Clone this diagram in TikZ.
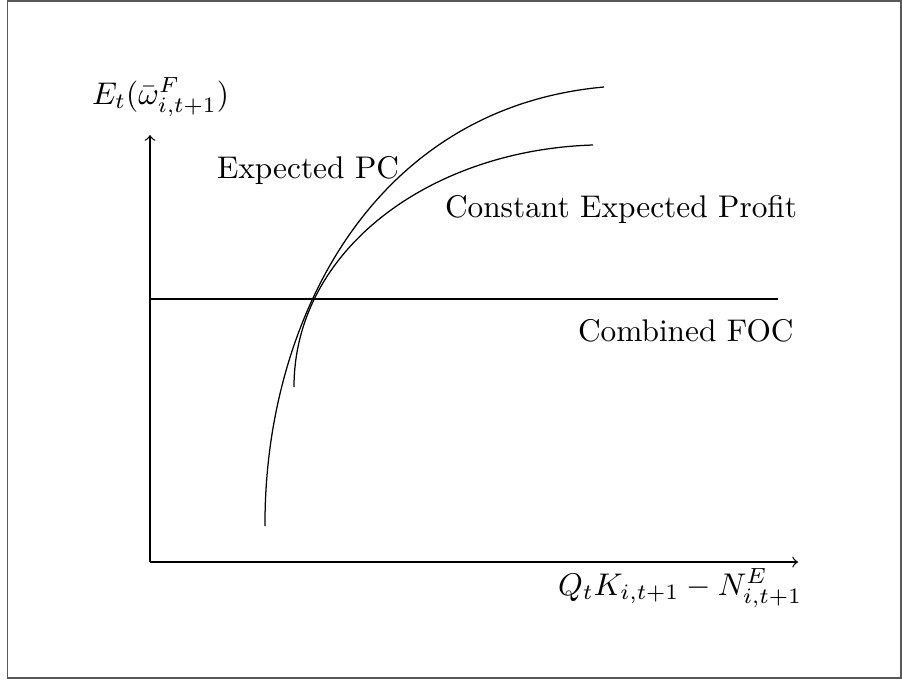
\documentclass[tikz,border=0pt]{standalone}
\usepackage{amsmath, amssymb}
\usetikzlibrary{positioning}
\tikzstyle{lbl} = [inner sep=0pt, outer sep=0pt]
\tikzstyle{curve} = [thin]
\begin{document}
\begin{tikzpicture}[x=0.319pt, y=-0.319pt]
    \useasboundingbox (0,0) rectangle (902,680);
    \draw[gray!70!black, line width=0.5pt] (7.5,0.8) rectangle (901,678); % outer frame
    % axes
    \coordinate (origin) at (150,562);
    \coordinate (ytip) at (150,135);
    \coordinate (xtip) at (798,562);
    \draw[->] (origin) -- (ytip);
    \draw[->] (origin) -- (xtip);
    \node[lbl, anchor=base west] (ylabel) at (92,104) {$E_t(\bar{\omega}^F_{i,t+1})$};
    \node[lbl, anchor=base west] (xlabel) at (558,595) {$Q_tK_{i,t+1}-N^E_{i,t+1}$};
    % combined FOC
    \coordinate (focleft) at (150,299);
    \coordinate (focright) at (778,299);
    \draw (focleft) -- (focright);
    \node[lbl, anchor=base west] (foc) at (578,341) {Combined FOC};
    % expected PC
    \coordinate (pcstart) at (265,526);
    \coordinate (pcend) at (604,87);
    \draw[curve] (pcstart) .. controls (264,325) and (370,108) .. (pcend);
    \node[lbl, anchor=base west] (pc) at (217,178) {Expected PC};
    % constant expected profit
    \coordinate (cepstart) at (294,387);
    \coordinate (cepend) at (593,145);
    \draw[curve] (cepstart) .. controls (294,250) and (430,150) .. (cepend);
    \node[lbl, anchor=base west] (cep) at (445,217) {Constant Expected Profit};
\end{tikzpicture}
\end{document}
